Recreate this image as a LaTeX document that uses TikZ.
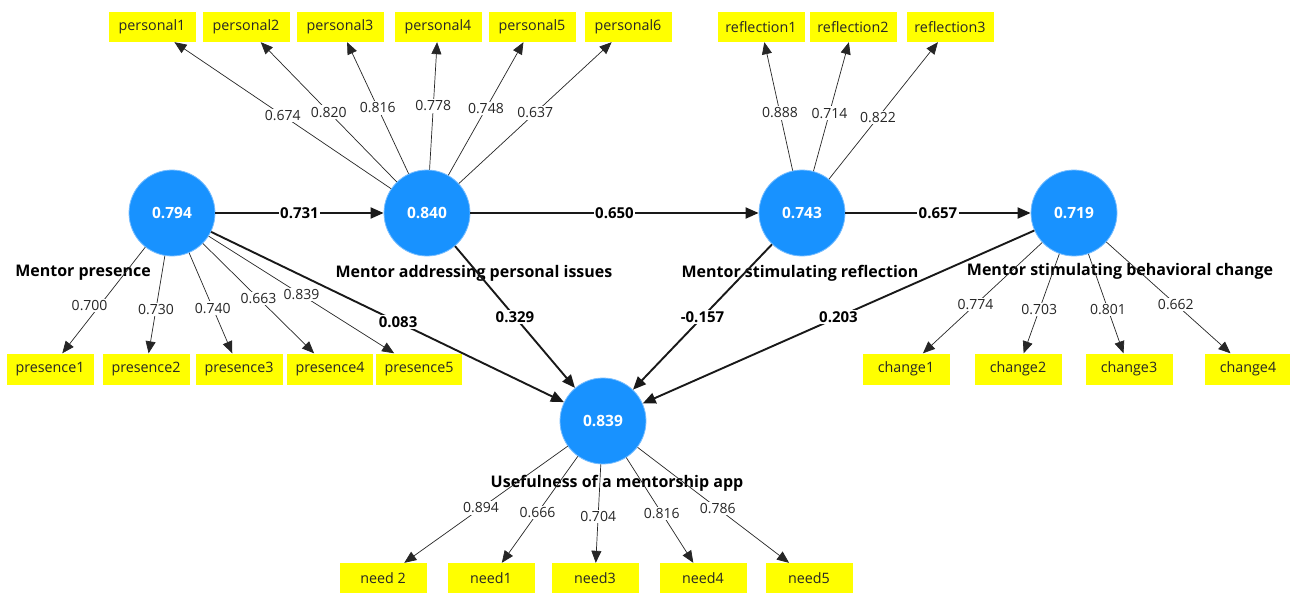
\documentclass[tikz,border=0pt]{standalone}
\usepackage{fontspec}
\setmainfont{Open Sans}
\usetikzlibrary{arrows.meta}
\definecolor{lvblue}{RGB}{24,146,255}
\definecolor{lvedge}{RGB}{120,190,255}
\definecolor{indyellow}{RGB}{255,255,0}
\tikzset{
  lv/.style={circle, fill=lvblue, draw=lvedge, line width=0.8pt, minimum size=86pt, inner sep=0pt, text=white, font=\bfseries\fontsize{15.5}{18}\selectfont},
  ind/.style={fill=indyellow, minimum width=87pt, minimum height=30pt, inner sep=0pt, text=black!85, font=\fontsize{14.3}{17}\selectfont},
  lvname/.style={inner sep=0pt, font=\bfseries\fontsize{16}{19}\selectfont},
  load/.style={-{Triangle[length=12pt,width=10pt]}, line width=0.7pt, draw=black!85},
  struct/.style={-{Triangle[length=13pt,width=11pt]}, line width=1.9pt, draw=black!90},
  lw/.style={fill=white, inner sep=1.5pt, text=black!85, font=\fontsize{14}{16}\selectfont},
  pw/.style={fill=white, inner sep=1.5pt, font=\bfseries\fontsize{15}{17}\selectfont}
}
\begin{document}
\begin{tikzpicture}[x=1pt,y=-1pt]
\useasboundingbox[fill=white] (0,0) rectangle (1290,592);
% latent variables
\node[lv] (MP) at (172,213) {0.794};
\node[lv] (MA) at (427,213) {0.840};
\node[lv] (MR) at (802,213) {0.743};
\node[lv] (MB) at (1074,213) {0.719};
\node[lv] (UA) at (603,421) {0.839};
% latent names
\node[lvname] (nMP) at (83,273) {Mentor presence};
\node[lvname] (nMA) at (474,273) {Mentor addressing personal issues};
\node[lvname] (nMR) at (800,273) {Mentor stimulating reflection};
\node[lvname] (nMB) at (1120,271) {Mentor stimulating behavioral change};
\node[lvname] (nUA) at (617,483) {Usefulness of a mentorship app};
% indicators
\node[ind] (p1) at (152,27) {personal1};
\node[ind] (p2) at (246,27) {personal2};
\node[ind] (p3) at (340,27) {personal3};
\node[ind] (p4) at (438,27) {personal4};
\node[ind] (p5) at (532,27) {personal5};
\node[ind] (p6) at (628,27) {personal6};
\node[ind] (r1) at (761,27) {reflection1};
\node[ind] (r2) at (853,27) {reflection2};
\node[ind] (r3) at (950,27) {reflection3};
\node[ind, minimum height=31pt] (s1) at (50,369) {presence1};
\node[ind, minimum height=31pt] (s2) at (146,369) {presence2};
\node[ind, minimum height=31pt] (s3) at (239,369) {presence3};
\node[ind, minimum height=31pt, minimum width=86pt] (s4) at (330,369) {presence4};
\node[ind, minimum height=31pt, minimum width=86pt] (s5) at (419,369) {presence5};
\node[ind, minimum height=31pt] (c1) at (906,369) {change1};
\node[ind, minimum height=31pt] (c2) at (1018,369) {change2};
\node[ind, minimum height=31pt] (c3) at (1129,369) {change3};
\node[ind, minimum height=31pt] (c4) at (1248,369) {change4};
\node[ind] (d2) at (383,578) {need 2};
\node[ind] (d1) at (491,578) {need1};
\node[ind] (d3) at (595,578) {need3};
\node[ind] (d4) at (703,578) {need4};
\node[ind] (d5) at (809,578) {need5};
% loadings
\draw[load] (MA) -- node[lw] {0.674} (p1);
\draw[load] (MA) -- node[lw] {0.820} (p2);
\draw[load] (MA) -- node[lw] {0.816} (p3);
\draw[load] (MA) -- node[lw] {0.778} (p4);
\draw[load] (MA) -- node[lw] {0.748} (p5);
\draw[load] (MA) -- node[lw] {0.637} (p6);
\draw[load] (MR) -- node[lw, pos=0.45] {0.888} (r1);
\draw[load] (MR) -- node[lw, pos=0.45] {0.714} (r2);
\draw[load] (MR) -- node[lw, pos=0.45] {0.822} (r3);
\draw[load] (MP) -- node[lw, pos=0.55, xshift=-10pt] {0.700} (s1);
\draw[load] (MP) -- node[lw, pos=0.55] {0.730} (s2);
\draw[load] (MP) -- node[lw, pos=0.55] {0.740} (s3);
\draw[load] (MP) -- node[lw, pos=0.5] {0.663} (s4);
\draw[load] (MP) -- node[lw, pos=0.5] {0.839} (s5);
\draw[load] (MB) -- node[lw, pos=0.56] {0.774} (c1);
\draw[load] (MB) -- node[lw, pos=0.56] {0.703} (c2);
\draw[load] (MB) -- node[lw, pos=0.56] {0.801} (c3);
\draw[load] (MB) -- node[lw, pos=0.56] {0.662} (c4);
\draw[load] (UA) -- node[lw, pos=0.53] {0.894} (d2);
\draw[load] (UA) -- node[lw, pos=0.53] {0.666} (d1);
\draw[load] (UA) -- node[lw, pos=0.53] {0.704} (d3);
\draw[load] (UA) -- node[lw, pos=0.53] {0.816} (d4);
\draw[load] (UA) -- node[lw, pos=0.53] {0.786} (d5);
% structural paths
\draw[struct] (MP) -- node[pw] {0.731} (MA);
\draw[struct] (MA) -- node[pw] {0.650} (MR);
\draw[struct] (MR) -- node[pw] {0.657} (MB);
\draw[struct] (MP) -- node[pw, pos=0.53] {0.083} (UA);
\draw[struct] (MA) -- node[pw] {0.329} (UA);
\draw[struct] (MR) -- node[pw] {-0.157} (UA);
\draw[struct] (MB) -- node[pw] {0.203} (UA);
\end{tikzpicture}
\end{document}
